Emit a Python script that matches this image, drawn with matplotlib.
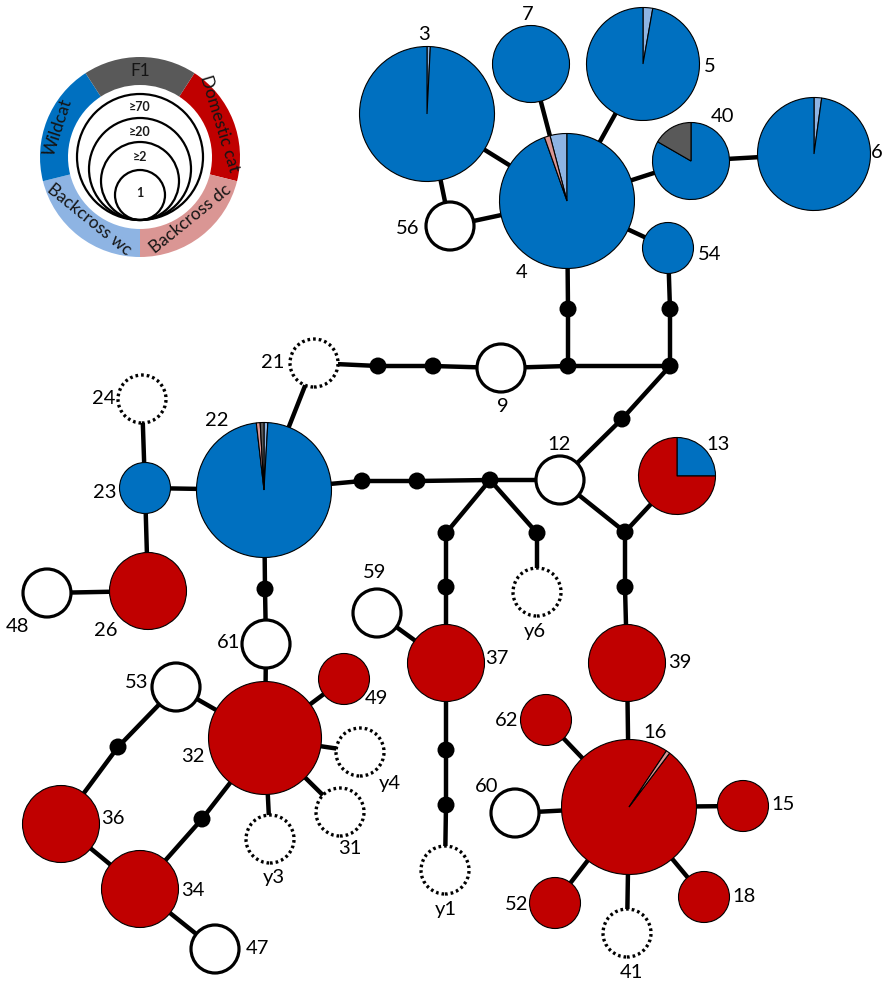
import math
import matplotlib
matplotlib.use("Agg")
import matplotlib.pyplot as plt
from matplotlib.patches import Circle, Wedge

plt.rcParams['font.family'] = ['Lato', 'DejaVu Sans']

W, H = 885, 984

# ---------------- data ----------------
categories = ['Backcross wc', 'Wildcat', 'Domestic cat', 'Backcross dc', 'F1']
cat_colors = ['#8EB4E3', '#0070C0', '#C00000', '#DA9694', '#595959']

haplotypes = ['3', '7', '5', '4', '56', '40', '6', '54', '9', '21', '24', '22', '23',
              '26', '48', '61', '12', '13', '59', '37', 'y6', '39', '49', '53', '32',
              'y4', '31', 'y3', '36', '34', '47', 'y1', '62', '16', '60', '15', '18',
              '52', '41']
# node kind: 'pie' = sampled haplotype, 'white' = other haplotype, 'dotted' = inferred
kinds = ['pie', 'pie', 'pie', 'pie', 'white', 'pie', 'pie', 'pie', 'white', 'dotted',
         'dotted', 'pie', 'pie', 'pie', 'white', 'white', 'white', 'pie', 'white', 'pie',
         'dotted', 'pie', 'pie', 'white', 'pie', 'dotted', 'dotted', 'dotted', 'pie',
         'pie', 'white', 'dotted', 'pie', 'pie', 'white', 'pie', 'pie', 'pie', 'dotted']
bc_wc    = [1, 0, 1, 3, 0, 0, 1, 0, 0, 0, 0, 1, 0, 0, 0, 0, 0, 0, 0, 0, 0, 0, 0, 0, 0, 0, 0, 0, 0, 0, 0, 0, 0, 0, 0, 0, 0, 0, 0]
wildcat  = [125, 5, 35, 70, 0, 5, 45, 1, 0, 0, 0, 107, 1, 0, 0, 0, 0, 1, 0, 0, 0, 0, 0, 0, 0, 0, 0, 0, 0, 0, 0, 0, 0, 0, 0, 0, 0, 0, 0]
domestic = [0, 0, 0, 0, 0, 0, 0, 0, 0, 0, 0, 0, 0, 5, 0, 0, 0, 3, 0, 6, 0, 5, 1, 0, 40, 0, 0, 0, 4, 4, 0, 0, 1, 108, 0, 1, 1, 1, 0]
bc_dc    = [0, 0, 0, 1, 0, 0, 0, 0, 0, 0, 0, 1, 0, 0, 0, 0, 0, 0, 0, 0, 0, 0, 0, 0, 0, 0, 0, 0, 0, 0, 0, 0, 0, 1, 0, 0, 0, 0, 0]
f1       = [0, 0, 0, 0, 0, 1, 0, 0, 0, 0, 0, 1, 0, 0, 0, 0, 0, 0, 0, 0, 0, 0, 0, 0, 0, 0, 0, 0, 0, 0, 0, 0, 0, 0, 0, 0, 0, 0, 0]

size_classes = ['1', '≥2', '≥20', '≥70']
size_thresholds = [1, 2, 20, 70]

# ---------------- layout (image pixel coords) ----------------
pos = {
    '3': (427, 114), '7': (531, 64), '5': (643, 64), '4': (567, 201), '56': (450, 226),
    '40': (691, 161), '6': (814, 154), '54': (668, 248), '9': (501, 368), '21': (314, 363),
    '24': (142, 399), '22': (264, 490), '23': (145, 488), '26': (148, 591), '48': (47, 593),
    '61': (266, 644), '12': (560, 480), '13': (677, 476), '59': (377, 613), '37': (446, 663),
    'y6': (537, 592), '39': (627, 663), '49': (344, 679), '53': (176, 687), '32': (265, 738),
    'y4': (360, 752), '31': (340, 812), 'y3': (270, 839), '36': (61, 824), '34': (140, 889),
    '47': (215, 949), 'y1': (445, 870), '62': (546, 720), '16': (629, 807), '60': (515, 813),
    '15': (743, 806), '18': (704, 897), '52': (555, 903), '41': (627, 933),
    # mutation steps
    'a1': (568, 309), 'a2': (568, 366), 'b1': (670, 309), 'b2': (670, 366),
    'c1': (378, 366), 'c2': (433, 366), 'd1': (622, 419), 'e1': (362, 481),
    'e2': (417, 481), 'e3': (490, 480), 'f1': (446, 533), 'f2': (446, 587),
    'g1': (537, 533), 'h1': (625, 532), 'h2': (625, 587), 'i1': (265, 589),
    'j1': (446, 750), 'j2': (446, 805), 'k1': (118, 747), 'k2': (202, 819),
}
mutations = ['a1', 'a2', 'b1', 'b2', 'c1', 'c2', 'd1', 'e1', 'e2', 'e3', 'f1', 'f2',
             'g1', 'h1', 'h2', 'i1', 'j1', 'j2', 'k1', 'k2']

edges = [('3', '4'), ('3', '56'), ('56', '4'), ('7', '4'), ('5', '4'), ('40', '4'),
         ('40', '6'), ('4', '54'), ('4', 'a1'), ('a1', 'a2'), ('54', 'b1'), ('b1', 'b2'),
         ('9', 'a2'), ('a2', 'b2'), ('b2', 'd1'), ('d1', '12'), ('21', 'c1'), ('c1', 'c2'),
         ('c2', '9'), ('21', '22'), ('24', '23'), ('23', '22'), ('23', '26'), ('26', '48'),
         ('22', 'e1'), ('e1', 'e2'), ('e2', 'e3'), ('e3', '12'), ('e3', 'f1'), ('f1', 'f2'),
         ('f2', '37'), ('e3', 'g1'), ('g1', 'y6'), ('12', 'h1'), ('13', 'h1'), ('h1', 'h2'),
         ('h2', '39'), ('22', 'i1'), ('i1', '61'), ('61', '32'), ('59', '37'), ('37', 'j1'),
         ('j1', 'j2'), ('j2', 'y1'), ('32', '49'), ('32', 'y4'), ('32', '31'), ('32', 'y3'),
         ('32', '53'), ('53', 'k1'), ('k1', '36'), ('32', 'k2'), ('k2', '34'), ('36', '34'),
         ('34', '47'), ('39', '16'), ('16', '62'), ('16', '60'), ('16', '15'), ('16', '18'),
         ('16', '52'), ('16', '41')]

label_pos = {
    '3': (424, 35), '7': (528, 15), '5': (710, 66), '4': (522, 272), '56': (408, 229),
    '40': (723, 116), '6': (877, 152), '54': (710, 255), '9': (503, 406), '21': (273, 363),
    '24': (104, 398), '22': (217, 420), '23': (105, 492), '26': (106, 630), '48': (18, 627),
    '61': (229, 643), '12': (559, 444), '13': (718, 444), '59': (375, 573), 'y6': (535, 632),
    '37': (497, 659), '39': (680, 663), '49': (376, 699), '53': (137, 683), '32': (193, 757),
    'y4': (390, 784), '31': (350, 849), 'y3': (274, 877), '36': (113, 818), '34': (193, 890),
    '47': (257, 948), 'y1': (446, 909), '62': (507, 720), '16': (655, 733), '60': (487, 787),
    '15': (783, 804), '18': (744, 897), '52': (517, 905), '41': (631, 973),
}
start_angle = {'4': 104.6, '16': 53.0}
class_radius = [25.5, 38.5, 56.5, 67.5]
other_radius = 24.0
dot_radius = 8.5


def P(xy):
    return (xy[0], H - xy[1])


fig = plt.figure(figsize=(W / 100, H / 100), dpi=100)
ax = fig.add_axes([0, 0, 1, 1])

# edges
for a, b in edges:
    (x1, y1), (x2, y2) = P(pos[a]), P(pos[b])
    ax.plot([x1, x2], [y1, y2], color='black', lw=3.2, solid_capstyle='butt', zorder=1)

# mutation dots
for m in mutations:
    ax.add_patch(Circle(P(pos[m]), dot_radius, facecolor='black', edgecolor='none', zorder=2))

# haplotype nodes
for i, h in enumerate(haplotypes):
    c = P(pos[h])
    if kinds[i] == 'pie':
        vals = [bc_wc[i], wildcat[i], domestic[i], bc_dc[i], f1[i]]
        total = sum(vals)
        cls = max(k for k, t in enumerate(size_thresholds) if total >= t)
        r = class_radius[cls]
        v = [x for x in vals if x > 0]
        cols = [cat_colors[k] for k, x in enumerate(vals) if x > 0]
        ax.pie(v, colors=cols, center=c, radius=r, startangle=start_angle.get(h, 90),
               counterclock=False,
               wedgeprops=dict(edgecolor='black', linewidth=0.8, zorder=3))
    elif kinds[i] == 'white':
        ax.add_patch(Circle(c, other_radius, facecolor='white', edgecolor='black',
                            lw=2.3, zorder=3))
    else:
        ax.add_patch(Circle(c, other_radius, facecolor='white', edgecolor='black',
                            lw=2.4, ls=(0, (0.8, 0.9)), zorder=3))
    lx, ly = P(label_pos[h])
    ax.text(lx, ly, h, ha='center', va='center', fontsize=14.5, color='black', zorder=5)

# ---------------- legend ----------------
lc = P((140, 157))
r_out, ring_w = 100, 28
ring_spans = [(194, 270), (123, 194), (346, 417), (270, 346), (57, 123)]
text_theta = [231, 160, 23, 309, 90]
text_r = [80, 87, 86, 80, 86]
text_rot = [-39, 72, -73, 39, 0]
for k, name in enumerate(categories):
    t1, t2 = ring_spans[k]
    ax.add_patch(Wedge(lc, r_out, t1, t2, width=ring_w, facecolor=cat_colors[k],
                       edgecolor='none', zorder=3))
    th = math.radians(text_theta[k])
    tx = lc[0] + text_r[k] * math.cos(th)
    ty = lc[1] + text_r[k] * math.sin(th)
    ax.text(tx, ty, name, ha='center', va='center', rotation=text_rot[k],
            rotation_mode='anchor', fontsize=12.5, color='#141414', zorder=5)

bottom = 220
leg_r = [25, 39, 51, 63]
leg_ty = [193, 157, 132, 107]
for k in range(len(size_classes)):
    ax.add_patch(Circle(P((140, bottom - leg_r[k])), leg_r[k], facecolor='none',
                        edgecolor='black', lw=1.6, zorder=4))
    tx, ty = P((140, leg_ty[k]))
    ax.text(tx, ty, size_classes[k], ha='center', va='center', fontsize=9,
            fontweight='bold', color='#1a1a1a', zorder=5)

ax.set_xlim(0, W)
ax.set_ylim(0, H)
ax.set_aspect('equal')
ax.axis('off')
fig.savefig('out.png', dpi=100, facecolor='white')
